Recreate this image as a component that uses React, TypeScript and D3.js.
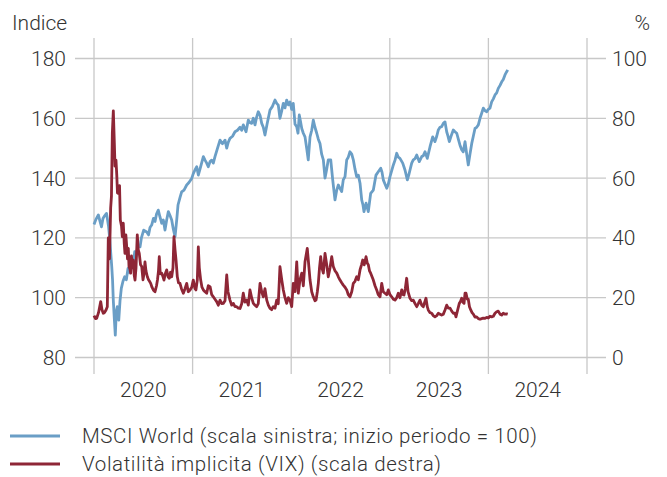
import React from "react";
import * as d3 from "d3";

// Time in decimal years
const msciT = [2020.000,2020.020,2020.044,2020.061,2020.076,2020.091,2020.106,2020.127,2020.147,2020.159,2020.172,2020.180,2020.188,2020.196,2020.206,2020.216,2020.226,2020.236,2020.251,2020.264,2020.277,2020.294,2020.311,2020.328,2020.345,2020.360,2020.378,2020.396,2020.413,2020.429,2020.446,2020.467,2020.480,2020.504,2020.535,2020.553,2020.568,2020.585,2020.603,2020.619,2020.634,2020.652,2020.669,2020.687,2020.703,2020.720,2020.737,2020.754,2020.771,2020.788,2020.804,2020.822,2020.839,2020.852,2020.872,2020.889,2020.913,2020.940,2020.963,2020.991,2021.007,2021.024,2021.042,2021.058,2021.075,2021.109,2021.126,2021.143,2021.159,2021.177,2021.194,2021.210,2021.227,2021.253,2021.278,2021.303,2021.329,2021.346,2021.362,2021.379,2021.405,2021.430,2021.455,2021.481,2021.498,2021.514,2021.542,2021.565,2021.582,2021.599,2021.616,2021.633,2021.650,2021.666,2021.684,2021.701,2021.717,2021.734,2021.755,2021.785,2021.810,2021.836,2021.853,2021.869,2021.886,2021.904,2021.920,2021.937,2021.954,2021.971,2021.988,2022.005,2022.021,2022.039,2022.056,2022.069,2022.082,2022.094,2022.107,2022.123,2022.140,2022.157,2022.173,2022.191,2022.208,2022.224,2022.241,2022.259,2022.275,2022.292,2022.309,2022.326,2022.343,2022.360,2022.376,2022.401,2022.421,2022.444,2022.462,2022.478,2022.495,2022.512,2022.528,2022.546,2022.563,2022.579,2022.596,2022.614,2022.630,2022.647,2022.664,2022.681,2022.698,2022.715,2022.728,2022.738,2022.759,2022.782,2022.806,2022.833,2022.860,2022.883,2022.908,2022.921,2022.934,2022.951,2022.969,2022.985,2023.002,2023.036,2023.053,2023.070,2023.086,2023.103,2023.131,2023.154,2023.178,2023.192,2023.205,2023.222,2023.238,2023.256,2023.273,2023.299,2023.324,2023.340,2023.357,2023.380,2023.408,2023.435,2023.458,2023.476,2023.492,2023.509,2023.526,2023.543,2023.560,2023.577,2023.590,2023.604,2023.621,2023.644,2023.661,2023.679,2023.695,2023.712,2023.729,2023.745,2023.763,2023.780,2023.796,2023.813,2023.831,2023.847,2023.864,2023.881,2023.898,2023.915,2023.932,2023.948,2023.966,2023.983,2023.999,2024.016,2024.033,2024.050,2024.067,2024.084,2024.100,2024.118,2024.135,2024.151,2024.168,2024.184,2024.196];
const msciV = [124.5,126.2,127.7,125.5,123.7,126.5,127.3,128.2,124,119.9,114,110.4,106,99,93,87.5,95.3,97,92.5,99,103.1,105.5,107,106,109.8,108.5,112,111,115.4,114,117.6,117,119.9,122.6,122,121,123.5,124.3,126.5,125.5,128,129.3,127,124.9,126,122.6,126,128.8,127.5,126,123,120.4,126,131,133.5,135.4,136,137.7,138.5,139.9,141.5,142.7,143.8,141,143,147.2,146,145,143.8,145.5,146,145,147.2,150,152.7,151.5,152.7,150,152,153.3,154,155.5,156,157,156,157.8,155.5,159.4,158.5,158.3,160,157.8,160.5,162.2,161,158.3,157,154.4,158,162.8,164,166.1,165,164.4,160,162.5,165,163.5,166.1,164.5,165.5,163,165,158,157.2,155,161.1,159,156.6,155,153.8,150,146.1,153.8,156,159.4,157,155,153,151.6,148,146.1,140,143,146.1,146.1,139.4,132.7,136,137.7,136.6,135.5,139.4,140.5,146.1,147,148.8,148,146.1,143,140.5,141,138.3,132.7,131,128.8,131.6,128.8,134.9,136,141,142.1,143.3,142,139.4,138,136.6,138,140.5,144.4,146,148.3,147,146.6,145,142.7,139.4,141,142.7,145,146.1,146.5,147.7,145.5,147.2,147.5,148.8,146.6,150.5,153.8,152.2,154,156.1,157,157.2,158.3,158.8,155.5,154,152.2,154,156.1,155.5,155,153,151,149.5,148.8,152.2,148,144.4,148,151.6,154,156.6,157,157.8,160,161.7,163.4,162.5,162.2,163,163.4,165.5,166.5,167.8,168.5,170,171,172.2,173,174.5,175.5,176.2];

const vixT = [2020.000,2020.015,2020.027,2020.046,2020.068,2020.081,2020.094,2020.106,2020.122,2020.135,2020.145,2020.157,2020.169,2020.177,2020.186,2020.196,2020.206,2020.213,2020.223,2020.231,2020.238,2020.246,2020.259,2020.267,2020.279,2020.287,2020.297,2020.307,2020.314,2020.323,2020.332,2020.340,2020.348,2020.355,2020.365,2020.372,2020.380,2020.388,2020.399,2020.408,2020.416,2020.426,2020.439,2020.449,2020.459,2020.472,2020.484,2020.497,2020.507,2020.517,2020.527,2020.541,2020.553,2020.563,2020.575,2020.588,2020.603,2020.619,2020.634,2020.644,2020.654,2020.662,2020.672,2020.687,2020.700,2020.710,2020.723,2020.737,2020.751,2020.764,2020.776,2020.788,2020.801,2020.811,2020.822,2020.832,2020.845,2020.857,2020.872,2020.887,2020.906,2020.923,2020.940,2020.956,2020.974,2020.991,2021.007,2021.024,2021.034,2021.048,2021.058,2021.068,2021.082,2021.095,2021.109,2021.126,2021.143,2021.159,2021.177,2021.194,2021.210,2021.227,2021.244,2021.261,2021.278,2021.295,2021.311,2021.329,2021.346,2021.359,2021.379,2021.397,2021.413,2021.430,2021.447,2021.464,2021.481,2021.498,2021.514,2021.531,2021.549,2021.565,2021.582,2021.599,2021.616,2021.633,2021.650,2021.666,2021.684,2021.701,2021.717,2021.734,2021.752,2021.768,2021.785,2021.802,2021.818,2021.836,2021.853,2021.869,2021.886,2021.904,2021.920,2021.937,2021.954,2021.971,2021.988,2022.005,2022.021,2022.039,2022.056,2022.072,2022.089,2022.107,2022.123,2022.140,2022.163,2022.175,2022.191,2022.208,2022.224,2022.241,2022.252,2022.265,2022.275,2022.287,2022.299,2022.312,2022.326,2022.343,2022.360,2022.376,2022.394,2022.411,2022.427,2022.444,2022.462,2022.478,2022.495,2022.512,2022.528,2022.546,2022.563,2022.579,2022.596,2022.614,2022.630,2022.647,2022.664,2022.681,2022.698,2022.713,2022.725,2022.741,2022.759,2022.772,2022.782,2022.794,2022.806,2022.820,2022.833,2022.850,2022.867,2022.883,2022.901,2022.918,2022.934,2022.951,2022.969,2022.985,2023.002,2023.019,2023.036,2023.053,2023.070,2023.086,2023.103,2023.121,2023.134,2023.144,2023.157,2023.171,2023.185,2023.205,2023.222,2023.238,2023.256,2023.273,2023.289,2023.306,2023.324,2023.340,2023.354,2023.367,2023.380,2023.390,2023.408,2023.425,2023.441,2023.458,2023.476,2023.492,2023.509,2023.526,2023.543,2023.560,2023.577,2023.593,2023.611,2023.628,2023.644,2023.661,2023.671,2023.689,2023.705,2023.717,2023.729,2023.742,2023.753,2023.763,2023.773,2023.786,2023.796,2023.808,2023.821,2023.834,2023.847,2023.864,2023.881,2023.898,2023.915,2023.932,2023.948,2023.966,2023.983,2023.999,2024.016,2024.033,2024.050,2024.067,2024.084,2024.100,2024.118,2024.135,2024.151,2024.168,2024.186,2024.196];
const vixV = [14,13,13.1,15,18.7,16,14.8,15,15.9,17,40,33,50,54,75,82.5,72,64,66,61,55,54.9,57.5,46,44,40.4,44.9,38,34.8,41,37,33,36.5,30.4,29.5,28.2,34,30,32.6,27.5,25.9,30,41,36,34.8,31,30.4,26,28,32,29,27,26,25.5,24.8,23.5,22.5,22,24,26,29,33.7,28,28.2,27,25.9,28,29.3,27,26.5,28.5,27,30,40.4,36,32.6,27,25,24.8,23,21.5,23,24.8,22,22.6,23.5,25.9,23,22.6,26,37,30,25.9,23.5,22.6,22,21.5,24,23.7,21,20.3,19.5,18.7,17.5,19.2,18,18.1,19,27.6,22,19.2,17.5,18.1,17,17,16.5,16.4,18,21.5,18.5,19.2,17.5,22.6,20,18.1,17.5,17,18,24.8,22,20.3,23,19.2,17.5,16.4,16,17,16.5,19.2,18,30.4,26,22.6,20,18.1,20,19.2,17,24.8,22,32,21.5,26,28.2,24,32,36.5,32,25.9,22,20.3,19,19.2,22,24.8,30,33.7,30,28.2,34.8,31,27,30,33.7,30.4,29,28.2,27,25.9,25,24.2,23.5,22.6,21,20.3,22,24.8,25.5,27,26,29.3,31,32.6,31,33.7,31.5,31,29,28.2,27,25.9,24,22.6,21,20.3,24.8,22,21.5,21,22.6,21,20.3,19.5,19.2,20,21.5,20,22.6,21,20.9,23,26.5,22,19.8,19,19.2,18,17,18,19.2,17.5,17,18.5,19.8,17,15.9,15,14.8,14,13.6,14,14.8,14.5,14.2,14.5,15.9,17.5,16.5,16.5,15.5,14.8,14.8,13.6,16,18.1,18.7,19.8,18.5,18.1,21.5,21.5,19.5,19.5,17,15.9,15,14.5,13.5,13.6,13,12.8,13,13.2,13.1,13.4,13.2,13.8,13.6,13.8,14.8,15.3,15.5,14.5,14.2,14.8,14.5,14.6,14.5];

const leftTicks = [80, 100, 120, 140, 160, 180];
const rightTicks = [0, 20, 40, 60, 80, 100];
const yearBounds = [2020, 2021, 2022, 2023, 2024, 2025];
const yearLabels = ["2020", "2021", "2022", "2023", "2024"];
const legendItems = [
  { label: "MSCI World (scala sinistra; inizio periodo = 100)", color: "#6a9ec6" },
  { label: "Volatilità implicita (VIX) (scala destra)", color: "#8e2636" },
];

const W = 667;
const H = 477;
const FONT = "Roboto, 'Liberation Sans', sans-serif";
const TEXT = "#333333";
const GRID = "#c8c8c8";

export default function App() {
  React.useEffect(() => {
    document.body.style.margin = "0";
  }, []);

  const x = d3.scaleLinear().domain([2020, 2025]).range([94, 587]);
  const yL = d3.scaleLinear().domain([80, 180]).range([357.5, 58.5]);
  const yR = d3.scaleLinear().domain([0, 100]).range([357.5, 58.5]);

  const msci = msciT.map((t, i) => [t, msciV[i]] as [number, number]);
  const vix = vixT.map((t, i) => [t, vixV[i]] as [number, number]);

  const lineL = d3.line<[number, number]>().x((d) => x(d[0])).y((d) => yL(d[1]));
  const lineR = d3.line<[number, number]>().x((d) => x(d[0])).y((d) => yR(d[1]));

  const fs = 21;
  const legFs = 20.5;

  return (
    <svg width={W} height={H} style={{ display: "block" }} fontFamily={FONT}>
      <rect width={W} height={H} fill="#fff" />
      {leftTicks.map((t) => (
        <line key={"h" + t} x1={75} x2={606} y1={yL(t)} y2={yL(t)} stroke={GRID} strokeWidth={1.3} />
      ))}
      {yearBounds.map((yb) => (
        <line key={"v" + yb} x1={x(yb)} x2={x(yb)} y1={38} y2={374} stroke={GRID} strokeWidth={1.3} />
      ))}
      {leftTicks.map((t) => (
        <text key={"lt" + t} x={66} y={yL(t)} dy="0.36em" textAnchor="end" fontSize={fs} fill={TEXT} fontWeight={300}>
          {t}
        </text>
      ))}
      {rightTicks.map((t) => (
        <text key={"rt" + t} x={612} y={yR(t)} dy="0.36em" textAnchor="start" fontSize={fs} fill={TEXT} fontWeight={300}>
          {t}
        </text>
      ))}
      {yearLabels.map((lab, i) => (
        <text key={"yl" + lab} x={(x(yearBounds[i]) + x(yearBounds[i + 1])) / 2} y={389} dy="0.36em" textAnchor="middle" fontSize={fs} fill={TEXT} fontWeight={300}>
          {lab}
        </text>
      ))}
      <text x={12} y={22} dy="0.36em" fontSize={fs} fill={TEXT} fontWeight={300}>Indice</text>
      <text x={650} y={22} dy="0.36em" textAnchor="end" fontSize={fs} fill={TEXT} fontWeight={300}>%</text>

      <path d={lineL(msci) || ""} fill="none" stroke={legendItems[0].color} strokeWidth={2.8} strokeLinejoin="round" />
      <path d={lineR(vix) || ""} fill="none" stroke={legendItems[1].color} strokeWidth={2.8} strokeLinejoin="round" />

      {legendItems.map((it, i) => (
        <g key={it.label} transform={`translate(0, ${436 + i * 28})`}>
          <line x1={10} x2={60} y1={0} y2={0} stroke={it.color} strokeWidth={2.8} />
          <text x={82} y={0} dy="0.34em" fontSize={legFs} fill={TEXT} fontWeight={300} letterSpacing={0.6}>
            {it.label}
          </text>
        </g>
      ))}
    </svg>
  );
}
